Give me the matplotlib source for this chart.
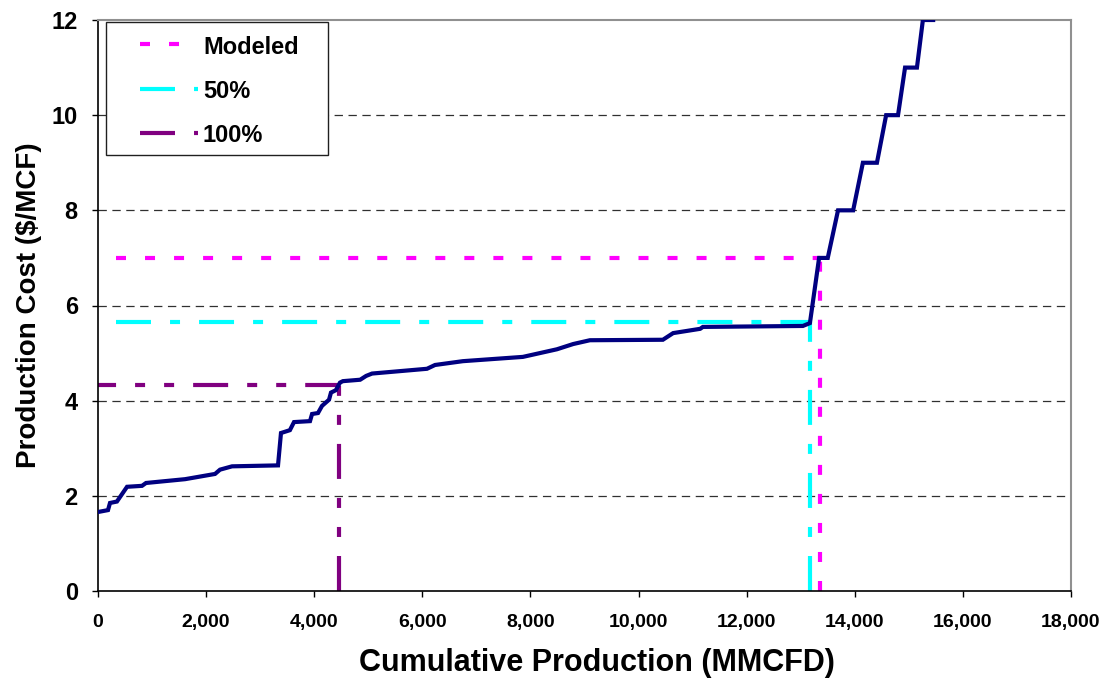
import matplotlib
matplotlib.use("Agg")
import matplotlib.pyplot as plt
from matplotlib.lines import Line2D
from matplotlib.patches import Rectangle
from matplotlib.ticker import FuncFormatter

plt.rcParams['font.family'] = ['Liberation Sans', 'DejaVu Sans']
plt.rcParams['font.weight'] = 'bold'
plt.rcParams['lines.scale_dashes'] = False

# Supply curve (cumulative production vs. production cost)
curve_x = [0, 185, 222, 350, 537, 814, 888, 1610, 2165, 2257, 2480, 3330, 3385, 3550,
           3626, 3922, 3960, 4070, 4144, 4274, 4310, 4400, 4477, 4530, 4850, 4960, 5070,
           6086, 6235, 6750, 7860, 8490, 8790, 9100, 10450, 10640, 11140, 11190, 13040,
           13170, 13340, 13500, 13690, 13970, 14150, 14410, 14580, 14800, 14930, 15150,
           15260, 15450]
curve_y = [1.66, 1.70, 1.85, 1.88, 2.19, 2.21, 2.27, 2.35, 2.46, 2.55, 2.62, 2.64, 3.32, 3.38,
           3.55, 3.57, 3.72, 3.74, 3.89, 4.02, 4.17, 4.22, 4.38, 4.41, 4.44, 4.52, 4.57,
           4.67, 4.75, 4.83, 4.92, 5.08, 5.19, 5.27, 5.28, 5.42, 5.51, 5.55, 5.57,
           5.63, 7.0, 7.0, 8.0, 8.0, 9.0, 9.0, 10.0, 10.0, 11.0, 11.0,
           12.0, 12.0]

# Reference levels
ref_names = ['Modeled', '50%', '100%']
ref_start = [330, 330, 0]
ref_cost = [7.0, 5.65, 4.33]
ref_prod = [13360, 13170, 4460]
ref_colors = ['#FF00FF', '#00FFFF', '#800080']
ref_dashes = [(7.2, 13.7), (25.2, 13.7, 7.2, 13.7), (25.2, 13.7, 7.2, 13.7, 7.2, 13.7)]
ref_hoffset = [0, 0, 12.2]

x_ticks = list(range(0, 18001, 2000))
y_ticks = list(range(0, 13, 2))

W, H = 1107, 679
fig = plt.figure(figsize=(W / 100, H / 100), dpi=100)
ax = fig.add_axes([98 / W, (H - 591) / H, (1071 - 98) / W, (591 - 20) / H])

for yv in y_ticks[1:-1]:
    ax.axhline(yv, color='#303030', lw=0.9, dashes=(6, 4), zorder=1)

for xs, yc, xp, col, ds, off in zip(ref_start, ref_cost, ref_prod, ref_colors, ref_dashes, ref_hoffset):
    ax.plot([xs, xp], [yc, yc], color=col, lw=3.0, linestyle=(off, ds),
            dash_capstyle='butt', zorder=2, clip_on=False)
    ax.plot([xp, xp], [0, yc], color=col, lw=3.0, linestyle=(0, ds),
            dash_capstyle='butt', zorder=2, clip_on=False)

ax.plot(curve_x, curve_y, color='#000080', lw=3.0, zorder=3, solid_joinstyle='miter')

ax.set_xlim(0, 18000)
ax.set_ylim(0, 12)
ax.set_xticks(x_ticks)
ax.set_yticks(y_ticks)
ax.xaxis.set_major_formatter(FuncFormatter(lambda v, p: f"{int(v):,}"))
ax.tick_params(axis='x', direction='out', length=4.5, width=1, labelsize=14, pad=12)
ax.tick_params(axis='y', direction='out', length=4.5, width=1, labelsize=17, pad=10)
for lbl in ax.get_xticklabels() + ax.get_yticklabels():
    lbl.set_fontweight('bold')

for s in ['top', 'right']:
    ax.spines[s].set_color('#909090')
    ax.spines[s].set_linewidth(1.5)
for s in ['left', 'bottom']:
    ax.spines[s].set_color('black')
    ax.spines[s].set_linewidth(1.2)

ax.set_xlabel('Cumulative Production (MMCFD)', fontsize=22, fontweight='bold', labelpad=12)
ax.xaxis.set_label_coords((597 - 98) / 973, -(663 - 591) / 571)
ax.xaxis.label.set_va('center')
ax.set_ylabel('Production Cost ($/MCF)', fontsize=20, fontweight='bold', labelpad=7)

# Legend box (Excel-style) in figure pixel coordinates
def fx(px):
    return px / W

def fy(py):
    return 1 - py / H

fig.patches.append(Rectangle((fx(106), fy(155)), fx(328) - fx(106), fy(22) - fy(155),
                             transform=fig.transFigure, facecolor='white',
                             edgecolor='#202020', lw=1.0, zorder=5))
row_y = [44, 89, 133]
for name, col, ds, ry in zip(ref_names, ref_colors, ref_dashes, row_y):
    fig.lines.append(Line2D([fx(140), fx(198)], [fy(ry), fy(ry)], transform=fig.transFigure,
                            color=col, lw=3.0, dashes=ds, dash_capstyle='butt', zorder=6))
    fig.text(fx(203), fy(ry + 3), name, fontsize=17, fontweight='bold', va='center', ha='left',
             zorder=6)

fig.savefig('out.png', dpi=100)
